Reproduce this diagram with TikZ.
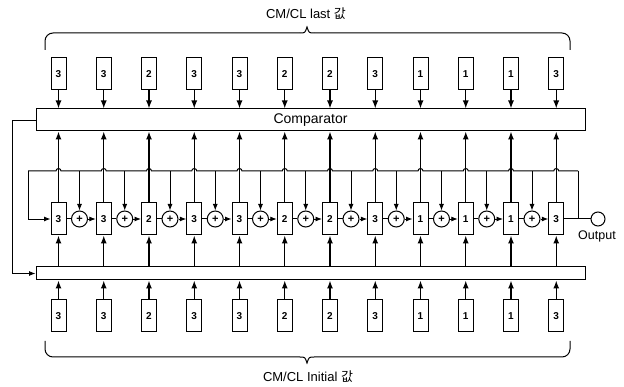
\documentclass[tikz,border=0pt]{standalone}
\usepackage{fontspec}
\setmainfont{Liberation Sans}
\newfontfamily\kr{Noto Sans CJK KR}
\usetikzlibrary{arrows.meta,calc}
\begin{document}
\begin{tikzpicture}[x=1pt,y=1pt,
  vbox/.style={draw,line width=1pt,minimum width=15pt,minimum height=32pt,inner sep=0pt,font=\fontsize{10}{10}\selectfont\bfseries},
  pl/.style={draw,circle,line width=1pt,minimum size=16pt,inner sep=0pt,font=\fontsize{11}{11}\selectfont\bfseries},
  bar/.style={draw,line width=1pt,inner sep=0pt},
  ln/.style={line width=1pt},
  arr/.style={line width=1.3pt,-{Latex[length=8pt,width=6pt]}},
  sarr/.style={line width=0.9pt,-{Latex[length=6.5pt,width=5pt]}},
  lbl/.style={font=\fontsize{13}{13}\selectfont}
]
\useasboundingbox (0,0) rectangle (624,-387);
\node[bar,minimum width=549pt,minimum height=22pt,font=\fontsize{14}{14}\selectfont] (comp) at (310.5,-120) {Comparator};
\node[bar,minimum width=549pt,minimum height=13pt] (init) at (310.5,-273.5) {};
\foreach \v [count=\i from 0] in {3,3,2,3,3,2,2,3,1,1,1,3}{
  \pgfmathsetmacro\cx{58.5+45.25*\i}
  \node[vbox] (tb\i) at (\cx,-74) {\v};
  \node[vbox] (cb\i) at (\cx,-219) {\v};
  \node[vbox] (bb\i) at (\cx,-316) {\v};
}
\foreach \i in {0,...,10}{
  \pgfmathsetmacro\px{58.5+45.25*\i+21}
  \node[pl] (p\i) at (\px,-219) {+};
}
\coordinate (busL) at (28,-171);
\coordinate (busR) at (578,-171);
\draw[ln] (busL) \foreach \i in {0,...,11}{ -- ($(cb\i.north |- busL)+(-2.5,0)$) arc[start angle=180,end angle=0,radius=2.5pt] } -- (busR);
\foreach \i in {0,...,11}{
  \draw[arr] (tb\i.south) -- (tb\i.south |- comp.north);
  \draw[arr] (cb\i.north) -- (cb\i.north |- comp.south);
  \draw[arr] (cb\i.south |- init.north) -- (cb\i.south);
  \draw[arr] (bb\i.north) -- (bb\i.north |- init.south);
}
\foreach \i [evaluate=\i as \j using int(\i+1)] in {0,...,10}{
  \draw[ln] (cb\i.east) -- (p\i.west);
  \draw[sarr] (p\i.east) -- (cb\j.west);
  \draw[sarr] (p\i.north |- busL) -- (p\i.north);
}
\draw[sarr] (busL) |- (cb0.west);
\node[circle,draw,line width=1pt,minimum size=14pt,inner sep=0pt] (out) at (598,-219) {};
\node[font=\fontsize{12.5}{12.5}\selectfont] (outl) at (597,-236) {Output};
\draw[ln] (cb11.east) -- (out.west);
\draw[ln] (busR) -- (busR |- out.west);
\draw[sarr] (comp.west) -- ++(-23,0) |- (init.west);
% braces
\draw[ln,rounded corners=8pt] (45,-50) -- (45,-33) -- (300,-33);
\draw[ln] (300,-33) .. controls (305,-33) .. (307,-27) .. controls (309,-33) .. (314,-33);
\draw[ln,rounded corners=8pt] (314,-33) -- (570,-33) -- (570,-50);
\draw[ln,rounded corners=8pt] (45,-341) -- (45,-357) -- (300,-357);
\draw[ln] (300,-357) .. controls (305,-357) .. (307,-363) .. controls (309,-357) .. (314,-357);
\draw[ln,rounded corners=8pt] (314,-357) -- (570,-357) -- (570,-341);
\node[lbl] (tlab) at (306,-14) {CM/CL last {\kr 값}};
\node[lbl] (blab) at (308,-377) {CM/CL Initial {\kr 값}};
\end{tikzpicture}
\end{document}
